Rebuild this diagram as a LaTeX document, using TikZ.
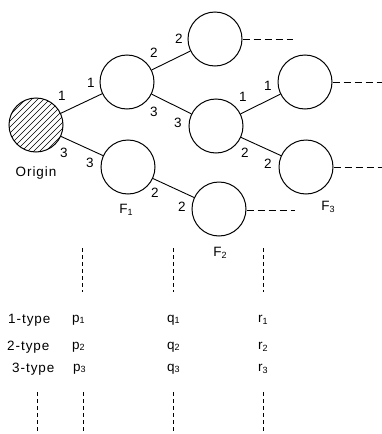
\documentclass[tikz,border=0pt]{standalone}
\usepackage{fontspec}
\setmainfont{Liberation Sans}[LetterSpace=7]
\newcommand{\sbs}[1]{\raisebox{-1.5pt}{\fontsize{9}{10}\selectfont #1}}
\begin{document}
\begin{tikzpicture}[x=1pt,y=-1pt,
  st/.style={circle,draw,line width=1pt,minimum size=54pt,inner sep=0pt},
  conn/.style={line width=0.9pt},
  hatch/.style={line width=0.6pt},
  lab/.style={inner sep=0pt,font=\fontsize{13.5}{15}\selectfont},
  hd/.style={line width=0.9pt,dash pattern=on 7pt off 4pt},
  vd/.style={line width=0.9pt,dash pattern=on 4pt off 3pt}]
\useasboundingbox (0,0) rectangle (382,434);
% origin hatching
\begin{scope}
\clip (36,125) circle (27pt);
\foreach \k in {-66,-60,...,66}
  \draw[hatch] (36+\k-35,125+35) -- (36+\k+35,125-35);
\end{scope}
% states
\node[st] (o) at (36,125) {};
\node[st] (a) at (127,82) {};
\node[st] (b) at (128,167) {};
\node[st] (c) at (215,39) {};
\node[st] (d) at (216,126) {};
\node[st] (e) at (219,209) {};
\node[st] (g) at (305,82) {};
\node[st] (h) at (306,167) {};
% connectors
\draw[conn] (o) -- (a);
\draw[conn] (o) -- (b);
\draw[conn] (a) -- (c);
\draw[conn] (a) -- (d);
\draw[conn] (d) -- (g);
\draw[conn] (d) -- (h);
\draw[conn] (b) -- (e);
% dashed continuations
\coordinate (ce) at (293,39);
\coordinate (ge) at (382,82);
\coordinate (he) at (382,167);
\coordinate (ee) at (295,210);
\draw[hd] (c.east) -- (ce);
\draw[hd] (g.east) -- (ge);
\draw[hd] (h.east) -- (he);
\draw[hd] ([yshift=-1pt]e.east) -- (ee);
% edge labels
\node[lab] (l1) at (62,96) {1};
\node[lab] (l2) at (91,83) {1};
\node[lab] (l3) at (64,153) {3};
\node[lab] (l4) at (90,163) {3};
\node[lab] (l5) at (154,53) {2};
\node[lab] (l6) at (179,39) {2};
\node[lab] (l7) at (154,112) {3};
\node[lab] (l8) at (178,123) {3};
\node[lab] (l9) at (243,97) {1};
\node[lab] (l10) at (268,86) {1};
\node[lab] (l11) at (245,153) {2};
\node[lab] (l12) at (268,164) {2};
\node[lab] (l13) at (155,193) {2};
\node[lab] (l14) at (182,207) {2};
% state names
\node[lab] (on) at (36,173) {Origin};
\node[lab] (f1) at (126,210) {F\sbs{1}};
\node[lab] (f2) at (220,253) {F\sbs{2}};
\node[lab] (f3) at (328,207) {F\sbs{3}};
% upper vertical dashes
\coordinate (u1t) at (82,248); \coordinate (u1b) at (82,292);
\coordinate (u2t) at (173,248); \coordinate (u2b) at (173,292);
\coordinate (u3t) at (263,248); \coordinate (u3b) at (263,292);
\draw[vd] (u1t) -- (u1b);
\draw[vd] (u2t) -- (u2b);
\draw[vd] (u3t) -- (u3b);
% table
\node[lab,anchor=west] (t1) at (8,320) {1-type};
\node[lab,anchor=west] (t2) at (7,347) {2-type};
\node[lab,anchor=west] (t3) at (12,369) {3-type};
\node[lab,anchor=west] (p1) at (72,320) {p\sbs{1}};
\node[lab,anchor=west] (p2) at (72,347) {p\sbs{2}};
\node[lab,anchor=west] (p3) at (73,369) {p\sbs{3}};
\node[lab,anchor=west] (q1) at (167,320) {q\sbs{1}};
\node[lab,anchor=west] (q2) at (167,347) {q\sbs{2}};
\node[lab,anchor=west] (q3) at (167,369) {q\sbs{3}};
\node[lab,anchor=west] (r1) at (258,320) {r\sbs{1}};
\node[lab,anchor=west] (r2) at (258,347) {r\sbs{2}};
\node[lab,anchor=west] (r3) at (258,369) {r\sbs{3}};
% lower vertical dashes
\coordinate (w0t) at (37,392); \coordinate (w0b) at (37,432);
\coordinate (w1t) at (83,392); \coordinate (w1b) at (83,432);
\coordinate (w2t) at (173,392); \coordinate (w2b) at (173,432);
\coordinate (w3t) at (263,392); \coordinate (w3b) at (263,432);
\draw[vd] (w0t) -- (w0b);
\draw[vd] (w1t) -- (w1b);
\draw[vd] (w2t) -- (w2b);
\draw[vd] (w3t) -- (w3b);
\end{tikzpicture}
\end{document}
